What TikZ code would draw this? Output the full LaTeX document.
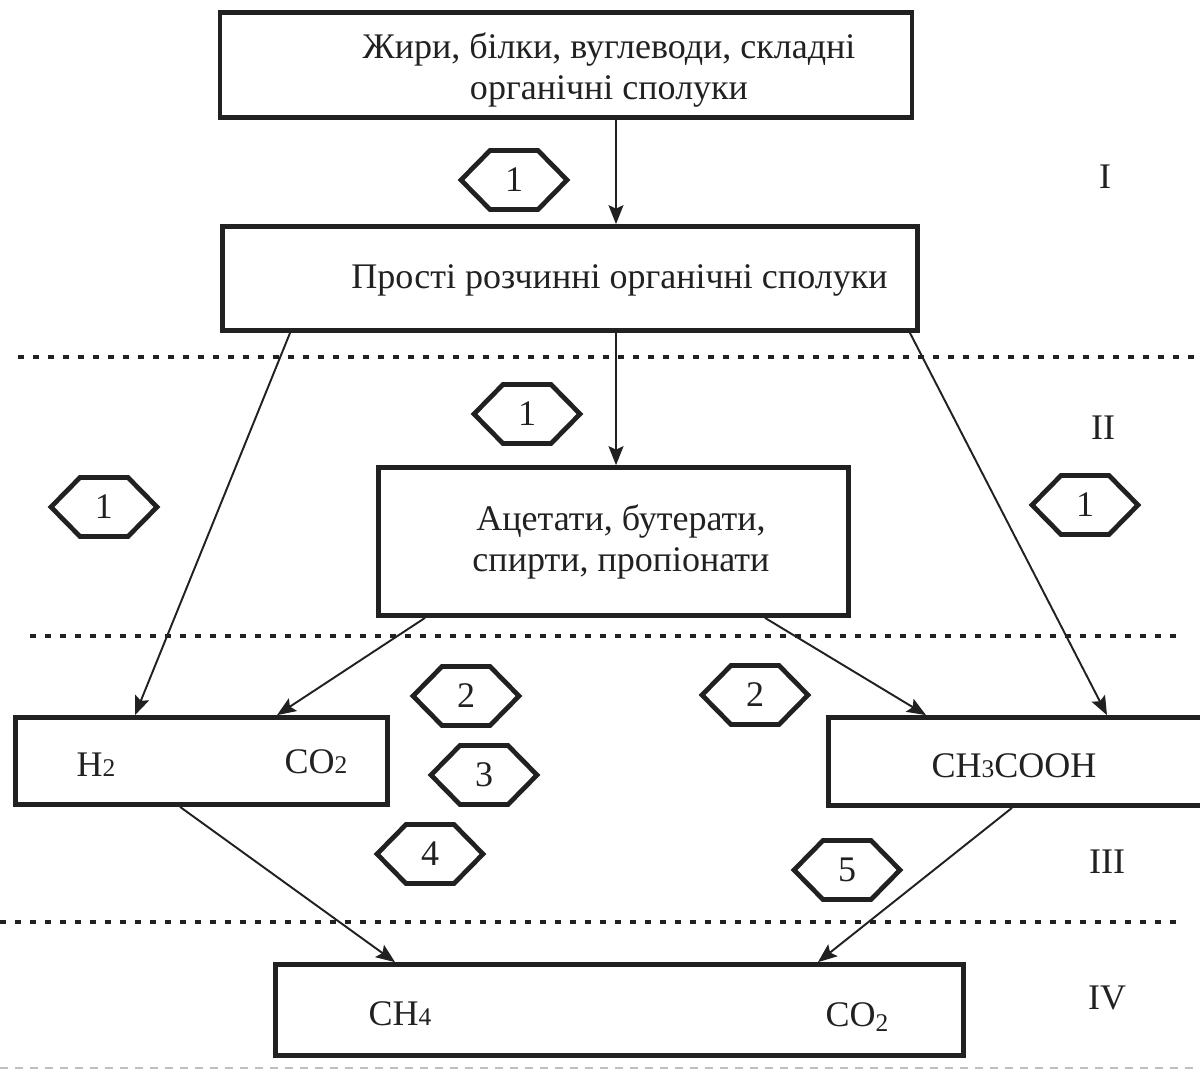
\documentclass[tikz,border=0pt]{standalone}
\usepackage{fontspec}
\setmainfont{Liberation Serif}
\usetikzlibrary{arrows.meta}
\definecolor{ink}{gray}{0.13}
\newcommand\chsub[1]{{\fontsize{14.5pt}{14.5pt}\selectfont #1}}
% numbered hexagon badge: name, x, y, number
\newcommand\hexnum[4]{%
  \node[numtxt] (#1) at (#2,#3) {#4};
  \draw[hexline, shift={(#2,#3)}] (-53,0) -- (-24,-29.5) -- (24,-29.5) -- (53,0) -- (24,29.5) -- (-24,29.5) -- cycle;}
\begin{document}
\begin{tikzpicture}[x=0.02cm, y=-0.02cm,
  every node/.style={text=ink, font=\fontsize{20.5pt}{23pt}\selectfont},
  box/.style={draw=ink, line width=2.7pt, rectangle, inner sep=0pt},
  hexline/.style={draw=ink, line width=2.7pt, line join=miter},
  numtxt/.style={inner sep=0pt},
  lbl/.style={inner sep=0pt, align=center},
  arr/.style={draw=ink, line width=1.1pt, -{Stealth[length=0.38cm, width=0.3cm, inset=0.07cm]}},
  sep/.style={draw=ink, line width=1.8pt, dash pattern=on 0.13cm off 0.17cm},
]
\clip (0,0) rectangle (1200,1072);

% boxes
\node[box, minimum width=13.84cm, minimum height=2.1cm] (B1) at (566,65) {};
\node[box, minimum width=13.9cm, minimum height=2.08cm] (B2) at (570,278.5) {};
\node[box, minimum width=9.4cm, minimum height=2.96cm] (B3) at (613.5,541.5) {};
\node[box, minimum width=7.44cm, minimum height=1.74cm] (B4) at (201.5,761) {};
\node[box, minimum width=7.62cm, minimum height=1.76cm] (B5) at (1019,761.5) {};
\node[box, minimum width=13.76cm, minimum height=1.82cm] (B6) at (619.5,1010) {};

% box texts
\node[lbl] (t1) at (609,70) {Жири, білки, вуглеводи, складні\\органічні сполуки};
\node[lbl] (t2) at (619.5,280) {Прості розчинні органічні сполуки};
\node[lbl] (t3) at (621,542) {Ацетати, бутерати,\\спирти, пропіонати};
\node[lbl] (h2) at (96,765) {H\chsub{2}};
\node[lbl] (co2a) at (316,762) {CO\chsub{2}};
\node[lbl] (acid) at (1014,766) {CH\chsub{3}COOH};
\node[lbl] (ch4) at (400,1014) {CH\chsub{4}};
\node[lbl] (co2b) at (857,1017) {CO\raisebox{-3pt}{\chsub{2}}};

% stage numerals
\node[lbl] (s1) at (1105,177) {I};
\node[lbl] (s2) at (1103,428) {II};
\node[lbl] (s3) at (1107,862) {III};
\node[lbl] (s4) at (1107,998) {IV};

% stage separators
\draw[sep] (18,357) -- (1195,357);
\draw[sep] (30,636) -- (1180,636);
\draw[sep] (0,922) -- (1180,922);
\draw[draw=black!25, line width=0.6pt, dash pattern=on 0.16cm off 0.14cm] (0,1068) -- (1200,1068);

% flows
\draw[arr] ([xshift=1cm]B1.south) -- ([xshift=0.92cm]B2.north);
\draw[arr] ([xshift=-5.6cm]B2.south) -- ([xshift=-1.33cm]B4.north);
\draw[arr] ([xshift=0.92cm]B2.south) -- ([xshift=0.05cm]B3.north);
\draw[arr] ([xshift=6.8cm]B2.south) -- ([xshift=1.76cm]B5.north);
\draw[arr] ([xshift=-3.77cm]B3.south) -- ([xshift=1.51cm]B4.north);
\draw[arr] ([xshift=3.03cm]B3.south) -- ([xshift=-1.86cm]B5.north);
\draw[arr] ([xshift=-0.43cm]B4.south) -- ([xshift=-4.49cm]B6.north);
\draw[arr] ([xshift=-0.14cm]B5.south) -- ([xshift=3.97cm]B6.north);

% process badges
\hexnum{n1}{514}{180}{1}
\hexnum{n2}{527}{414}{1}
\hexnum{n3}{104}{507}{1}
\hexnum{n4}{1085}{505}{1}
\hexnum{n5}{466}{696}{2}
\hexnum{n6}{484}{775}{3}
\hexnum{n7}{430}{854}{4}
\hexnum{n8}{755}{695}{2}
\hexnum{n9}{847}{870}{5}
\end{tikzpicture}
\end{document}
